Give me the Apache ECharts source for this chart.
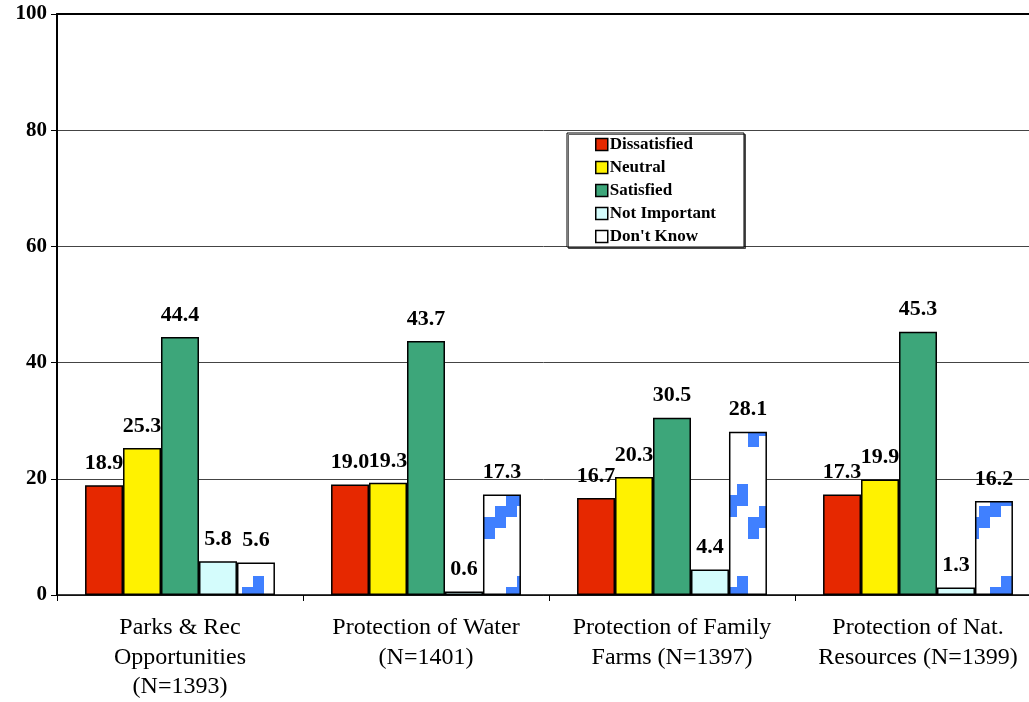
<!DOCTYPE html>
<html>
<head>
<meta charset="utf-8">
<script src="https://cdn.jsdelivr.net/npm/echarts@6/dist/echarts.min.js"></script>
<style>
html,body{margin:0;padding:0;background:#fff;}
#chart{width:1029px;height:702px;}
</style>
</head>
<body>
<div id="chart"></div>
<script>
const categories = [
  "Parks & Rec\nOpportunities\n(N=1393)",
  "Protection of Water\n(N=1401)",
  "Protection of Family\nFarms (N=1397)",
  "Protection of Nat.\nResources (N=1399)"
];
const seriesNames = ["Dissatisfied", "Neutral", "Satisfied", "Not Important", "Don't Know"];
const dissatisfied = [18.9, 19.0, 16.7, 17.3];
const neutral = [25.3, 19.3, 20.3, 19.9];
const satisfied = [44.4, 43.7, 30.5, 45.3];
const notImportant = [5.8, 0.6, 4.4, 1.3];
const dontKnow = [5.6, 17.3, 28.1, 16.2];
const yTicks = [0, 20, 40, 60, 80, 100];

// staircase pattern for "Don't Know"
const pc = document.createElement('canvas');
pc.width = 44; pc.height = 92;
const g = pc.getContext('2d');
g.fillStyle = '#ffffff'; g.fillRect(0, 0, 44, 92);
g.fillStyle = '#4080FF';
for (let k = 0; k < 4; k++) {
  g.fillRect(k * 11, 57 - k * 11, 11, 22);
}
const colors = ['#E62800', '#FFF200', '#3DA67A', '#D4FCFC', {image: pc, repeat: 'repeat'}];
const values = [dissatisfied, neutral, satisfied, notImportant, dontKnow];

const chart = echarts.init(document.getElementById('chart'));
const serif = '"Liberation Serif", "Times New Roman", serif';
chart.setOption({
  animation: false,
  backgroundColor: '#fff',
  grid: {left: 57, top: 14, width: 984, height: 581, containLabel: false, outerBoundsMode: 'none'},
  legend: {
    orient: 'vertical',
    left: 567, top: 133,
    padding: [3, 28, 2, 28],
    itemGap: 6,
    itemWidth: 12, itemHeight: 12,
    icon: 'rect',
    borderColor: '#000', borderWidth: 1,
    backgroundColor: '#fff',
    shadowColor: 'rgba(0,0,0,0.6)', shadowOffsetX: 1.5, shadowOffsetY: 1.5, shadowBlur: 0,
    textStyle: {fontFamily: serif, fontWeight: 'bold', fontSize: 17, color: '#000', padding: [0,0,0,-3], lineHeight: 17},
    data: seriesNames.map((n, i) => i === 4 ? {name: n, itemStyle: {color: '#fff', borderColor: '#000', borderWidth: 1.5}} : {name: n, itemStyle: {borderColor: '#000', borderWidth: 1.5}})
  },
  xAxis: [{
    type: 'category',
    data: categories,
    axisLine: {lineStyle: {color: '#000', width: 1.5}},
    axisTick: {show: true, length: 6, lineStyle: {color: '#000'}},
    axisLabel: {fontFamily: serif, fontSize: 24, color: '#000', margin: 18, lineHeight: 29.5, interval: 0}
  }, {
    type: 'category',
    position: 'top',
    data: categories,
    axisLine: {show: true, lineStyle: {color: '#000', width: 2}},
    axisTick: {show: false},
    axisLabel: {show: false}
  }],
  yAxis: {
    type: 'value',
    min: 0, max: 100, interval: 20,
    axisLine: {show: true, lineStyle: {color: '#000', width: 2}},
    axisTick: {show: true, length: 6, lineStyle: {color: '#000'}},
    axisLabel: {fontFamily: serif, fontWeight: 'bold', fontSize: 21, color: '#000', margin: 10,
      formatter: v => yTicks.includes(v) ? String(v) : ''},
    splitLine: {show: true, lineStyle: {color: '#444', width: 1}}
  },
  series: seriesNames.map((n, i) => ({
    name: n,
    type: 'bar',
    data: values[i],
    barGap: '0%',
    barCategoryGap: '22.8%',
    itemStyle: {color: colors[i], borderColor: '#000', borderWidth: 1.5},
    label: {
      show: true, position: 'top', distance: 11,
      formatter: p => p.value.toFixed(1),
      fontFamily: serif, fontWeight: 'bold', fontSize: 22, color: '#000'
    }
  }))
});
</script>
</body>
</html>
